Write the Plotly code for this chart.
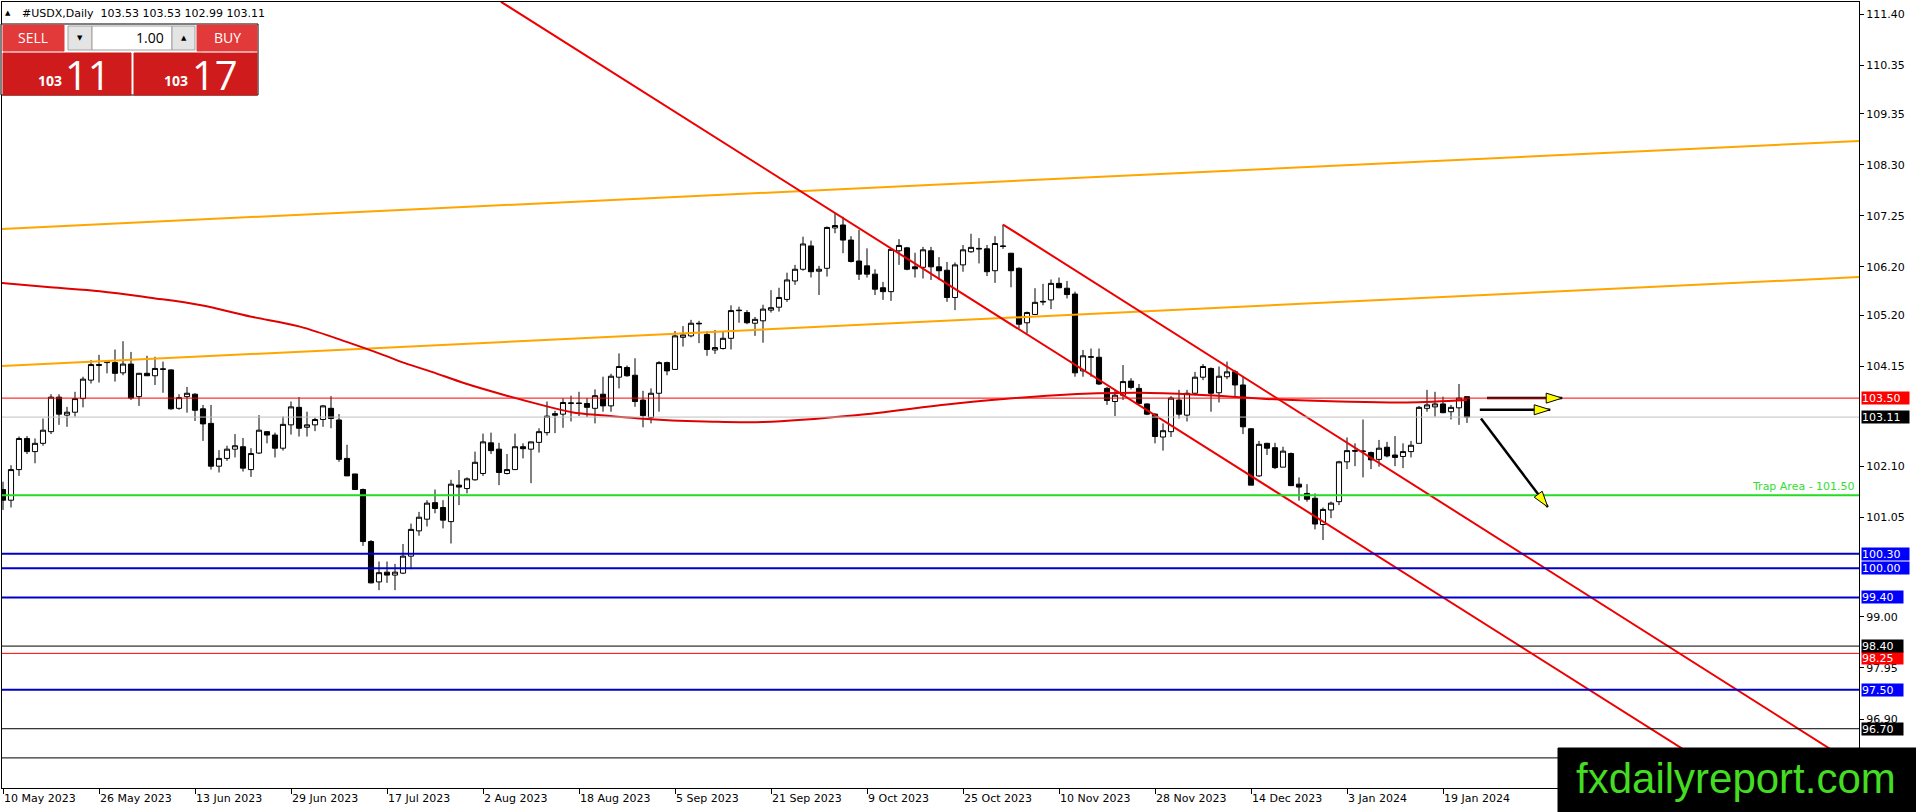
import plotly.graph_objects as go

# daily candles, 10 May 2023 .. 24 Jan 2024 (bar index = position on chart)
opens = [101.62, 101.40, 102.03, 102.67, 102.40, 102.57, 102.81, 103.52, 103.15, 103.21,
         103.49, 103.87, 104.17, 104.23, 104.23, 104.02, 104.20, 103.53, 104.01, 103.96,
         104.09, 104.08, 103.29, 103.53, 103.58, 103.28, 102.98, 102.10, 102.26, 102.45,
         102.50, 102.03, 102.37, 102.81, 102.74, 102.47, 102.95, 103.31, 102.90, 102.95,
         103.06, 103.29, 103.05, 102.26, 101.94, 101.62, 100.55, 99.72, 99.92, 99.86,
         99.90, 100.25, 100.77, 101.01, 101.35, 101.25, 100.96, 101.71, 101.64, 101.82,
         101.95, 102.58, 102.45, 101.95, 102.03, 102.50, 102.45, 102.59, 102.79, 103.18,
         103.17, 103.39, 103.40, 103.39, 103.29, 103.58, 103.34, 103.93, 104.13, 103.97,
         103.46, 103.10, 103.60, 104.23, 104.09, 104.75, 104.78, 105.04, 104.81, 104.49,
         104.52, 104.73, 105.31, 105.26, 105.04, 105.09, 105.31, 105.37, 105.53, 105.91,
         106.15, 106.63, 106.11, 106.17, 107.00, 107.06, 106.75, 106.32, 106.22, 106.05,
         105.77, 105.69, 106.53, 106.59, 106.20, 106.19, 106.53, 106.20, 106.13, 105.57,
         106.24, 106.51, 106.58, 106.57, 106.12, 106.63, 106.48, 106.17, 105.05, 105.22,
         105.49, 105.52, 105.86, 105.76, 105.64, 104.06, 104.34, 104.34, 103.70, 103.43,
         103.56, 103.85, 103.70, 103.38, 103.17, 102.70, 102.81, 103.46, 103.15, 103.60,
         103.93, 104.11, 103.61, 103.94, 104.04, 103.77, 102.87, 101.90, 102.57, 102.48,
         102.08, 102.36, 101.73, 101.54, 101.44, 100.90, 101.20, 101.37, 102.19, 102.42,
         102.40, 102.38, 102.24, 102.49, 102.33, 102.30, 102.40, 102.57, 103.29, 103.32,
         103.38, 103.22, 103.30, 103.53]
highs = [101.78, 102.12, 102.71, 102.72, 102.67, 103.08, 103.58, 103.58, 103.32, 103.63,
         103.94, 104.28, 104.39, 104.28, 104.50, 104.67, 104.45, 104.02, 104.37, 104.35,
         104.25, 104.09, 103.58, 103.73, 103.60, 103.36, 103.36, 102.43, 102.52, 102.76,
         102.68, 102.47, 103.15, 102.82, 102.79, 103.12, 103.43, 103.52, 103.22, 103.10,
         103.36, 103.54, 103.17, 102.54, 101.94, 101.64, 100.58, 100.14, 100.14, 100.09,
         100.50, 100.92, 101.16, 101.40, 101.62, 101.40, 101.82, 102.02, 101.87, 102.40,
         102.77, 102.79, 102.58, 102.35, 102.77, 102.57, 102.60, 102.88, 103.43, 103.24,
         103.50, 103.55, 103.63, 103.50, 103.68, 103.94, 104.00, 104.42, 104.17, 104.32,
         103.65, 103.70, 104.26, 104.25, 104.88, 104.98, 105.11, 105.09, 104.88, 104.90,
         104.87, 105.41, 105.38, 105.31, 105.17, 105.42, 105.72, 105.77, 106.08, 106.24,
         106.82, 106.74, 106.22, 107.03, 107.31, 107.23, 106.83, 106.96, 106.58, 106.15,
         105.89, 106.58, 106.77, 106.61, 106.49, 106.61, 106.61, 106.40, 106.30, 106.29,
         106.65, 106.88, 106.79, 106.65, 106.83, 107.07, 106.48, 106.19, 105.28, 105.76,
         105.85, 105.94, 105.98, 105.91, 105.69, 104.49, 104.52, 104.52, 103.73, 103.67,
         104.18, 103.91, 103.79, 103.39, 103.19, 102.98, 103.54, 103.67, 103.67, 104.04,
         104.20, 104.13, 104.15, 104.25, 104.08, 103.94, 102.88, 102.62, 102.58, 102.58,
         102.50, 102.38, 101.87, 101.73, 101.54, 101.25, 101.37, 102.21, 102.69, 102.57,
         103.06, 102.40, 102.64, 102.60, 102.72, 102.57, 102.62, 103.34, 103.67, 103.63,
         103.53, 103.36, 103.79, 103.53]
lows = [101.20, 101.25, 101.90, 102.35, 102.16, 102.52, 102.76, 102.95, 102.91, 103.12,
        103.31, 103.80, 103.82, 104.01, 103.84, 103.97, 103.46, 103.34, 103.96, 103.77,
        103.61, 103.26, 103.26, 103.20, 103.03, 102.62, 102.03, 101.97, 102.21, 102.28,
        101.99, 101.88, 102.35, 102.57, 102.28, 102.42, 102.75, 102.71, 102.71, 102.82,
        102.91, 102.88, 102.19, 101.90, 101.62, 100.46, 99.69, 99.55, 99.70, 99.55,
        99.88, 99.98, 100.67, 100.86, 101.13, 100.82, 100.51, 101.30, 101.54, 101.80,
        101.90, 102.35, 101.71, 101.93, 102.02, 102.26, 101.75, 102.38, 102.73, 102.78,
        102.89, 103.02, 103.13, 103.11, 102.98, 103.22, 103.22, 103.70, 103.94, 103.32,
        102.90, 102.98, 103.22, 103.97, 104.08, 104.56, 104.75, 104.63, 104.37, 104.41,
        104.50, 104.50, 105.05, 105.02, 104.78, 104.64, 105.26, 105.28, 105.48, 105.83,
        106.12, 105.98, 105.62, 106.00, 106.89, 106.48, 106.29, 105.93, 105.98, 105.62,
        105.52, 105.50, 106.24, 106.13, 105.98, 105.96, 105.93, 105.93, 105.48, 105.31,
        106.10, 106.49, 106.27, 106.01, 105.87, 106.57, 105.78, 104.93, 104.83, 105.21,
        105.41, 105.33, 105.76, 105.55, 103.94, 103.94, 103.94, 103.77, 103.36, 103.13,
        103.46, 103.68, 103.39, 103.15, 102.57, 102.42, 102.70, 103.08, 103.02, 103.58,
        103.87, 103.22, 103.41, 103.89, 103.53, 102.76, 101.71, 101.88, 102.33, 102.04,
        102.08, 101.70, 101.39, 101.37, 100.80, 100.58, 101.03, 101.30, 102.04, 102.10,
        101.87, 102.04, 102.09, 102.28, 102.10, 102.06, 102.28, 102.57, 103.22, 103.12,
        103.19, 103.06, 102.95, 102.99]
closes = [101.40, 102.03, 102.67, 102.40, 102.57, 102.84, 103.52, 103.17, 103.21, 103.49,
          103.89, 104.19, 104.19, 104.26, 104.01, 104.20, 103.50, 104.01, 103.96, 104.11,
          104.10, 103.28, 103.51, 103.60, 103.25, 102.97, 102.10, 102.26, 102.45, 102.52,
          102.06, 102.36, 102.84, 102.74, 102.47, 102.96, 103.32, 102.88, 102.95, 103.06,
          103.34, 103.08, 102.24, 101.90, 101.62, 100.55, 99.70, 99.91, 99.86, 99.92,
          100.25, 100.80, 101.05, 101.34, 101.23, 100.99, 101.73, 101.67, 101.84, 102.18,
          102.60, 102.42, 101.97, 102.03, 102.50, 102.46, 102.60, 102.81, 103.13, 103.15,
          103.41, 103.40, 103.39, 103.31, 103.55, 103.34, 103.95, 104.15, 103.96, 103.43,
          103.14, 103.60, 104.23, 104.06, 104.78, 104.80, 105.04, 105.03, 104.50, 104.54,
          104.73, 105.30, 105.30, 105.05, 105.12, 105.33, 105.36, 105.57, 105.93, 106.15,
          106.67, 106.10, 106.15, 107.01, 107.05, 106.75, 106.31, 106.05, 106.05, 105.74,
          105.69, 106.56, 106.64, 106.15, 106.16, 106.55, 106.20, 106.12, 105.57, 106.24,
          106.55, 106.60, 106.57, 106.10, 106.68, 106.62, 106.12, 105.02, 105.26, 105.47,
          105.48, 105.86, 105.77, 105.63, 104.02, 104.37, 104.35, 103.79, 103.45, 103.56,
          103.84, 103.72, 103.39, 103.17, 102.71, 102.83, 103.50, 103.17, 103.60, 103.93,
          104.15, 103.60, 103.95, 104.04, 103.77, 102.91, 101.71, 102.55, 102.47, 102.07,
          102.41, 101.70, 101.67, 101.42, 100.91, 101.21, 101.34, 102.19, 102.42, 102.41,
          102.41, 102.23, 102.47, 102.31, 102.28, 102.40, 102.53, 103.31, 103.36, 103.38,
          103.20, 103.31, 103.50, 103.11]

# date labels under the chart, one every 12 bars
label_bars = [0, 12, 24, 36, 48, 60, 72, 84, 96, 108, 120, 132, 144, 156, 168, 180]
date_labels = ["10 May 2023", "26 May 2023", "13 Jun 2023", "29 Jun 2023", "17 Jul 2023",
               "2 Aug 2023", "18 Aug 2023", "5 Sep 2023", "21 Sep 2023", "9 Oct 2023",
               "25 Oct 2023", "10 Nov 2023", "28 Nov 2023", "14 Dec 2023", "3 Jan 2024",
               "19 Jan 2024"]
price_ticks = [111.40, 110.35, 109.35, 108.30, 107.25, 106.20, 105.20, 104.15,
               102.10, 101.05, 99.00, 97.95, 96.90]

# moving average (bar, value)
ma_bars = [-0.4, 5.9, 12.1, 18.4, 24.6, 30.9, 37.1, 43.4, 47.5, 50.25, 53.6, 57.8, 62.75,
           67.75, 71.1, 75.25, 79.5, 83.6, 87.75, 95, 106.6, 119.1, 131.6, 142, 150.5,
           159.6, 167.1, 175.5, 183]
ma_vals = [105.87, 105.78, 105.70, 105.565, 105.415, 105.18, 104.97, 104.63, 104.39, 104.22,
           104.04, 103.80, 103.56, 103.34, 103.21, 103.14, 103.08, 103.04, 103.02, 103.01,
           103.15, 103.39, 103.56, 103.61, 103.56, 103.47, 103.43, 103.41, 103.46]

# drawn trend lines: (bars, prices)
orange_up = ([-0.125, 232], [106.98, 108.79])
orange_low = ([-0.125, 232], [104.16, 105.99])
red_long = ([62.25, 217.7], [111.65, 95.48])
red_channel = ([125, 236.1], [107.07, 95.48])

# arrows: start bar, start price, tip bar, tip price
arrows = [(185.5, 103.50, 194.9, 103.50),
          (184.6, 103.26, 193.4, 103.26),
          (184.75, 103.08, 193.1, 101.26)]

# horizontal levels
level_prices = [103.50, 103.11, 101.50, 100.30, 100.00, 99.40, 98.25, 98.40, 97.50, 96.70, 96.10]
level_colors = ["#ff0000", "#c0c0c0", "#22dd22", "#0000cd", "#0000cd", "#0000cd",
                "#ff0000", "black", "#0000cd", "black", "black"]
level_widths = [1, 1, 2, 2, 2, 2, 1, 1, 2, 1, 1]
level_boxes = ["#ff0000", "black", None, "#0000ff", "#0000ff", "#0000ff",
               "#ff0000", "black", "#0000ff", "black", None]

X_RANGE = [-0.125, 232]
Y_RANGE = [95.481, 111.647]
PLOT_W, PLOT_H = 1857, 786
PX_BAR = PLOT_W / (X_RANGE[1] - X_RANGE[0])
PX_UNIT = PLOT_H / (Y_RANGE[1] - Y_RANGE[0])


def px(x):
    return (x - 2) / PLOT_W


def py(y):
    return 1 - (y - 2) / PLOT_H


fig = go.Figure()

fig.add_trace(go.Candlestick(
    x=list(range(len(opens))), open=opens, high=highs, low=lows, close=closes,
    increasing=dict(fillcolor="white", line=dict(color="black", width=1)),
    decreasing=dict(fillcolor="black", line=dict(color="black", width=1)),
    whiskerwidth=0, hoverinfo="skip",
))

for bars, vals in [orange_up, orange_low]:
    fig.add_trace(go.Scatter(x=bars, y=vals, mode="lines",
                             line=dict(color="#ffa500", width=2), hoverinfo="skip"))

fig.add_trace(go.Scatter(x=ma_bars, y=ma_vals, mode="lines",
                         line=dict(color="#e00000", width=2, shape="spline"), hoverinfo="skip"))

for bars, vals in [red_long, red_channel]:
    fig.add_trace(go.Scatter(x=bars, y=vals, mode="lines",
                             line=dict(color="#ee0000", width=2), hoverinfo="skip"))

shapes = []
annotations = []

for p, c, w in zip(level_prices, level_colors, level_widths):
    shapes.append(dict(type="line", xref="paper", yref="y", x0=0, x1=1, y0=p, y1=p,
                       line=dict(color=c, width=w), layer="above"))

for p, box in zip(level_prices, level_boxes):
    if box is None:
        continue
    txt = f"{p:.2f}"
    # the 98.25 tag sits just under the 98.40 one
    shift = -5 if txt == "98.25" else 0
    annotations.append(dict(xref="paper", yref="y", x=1, y=p, xanchor="left", yanchor="middle",
                            xshift=2, yshift=shift, text=txt, showarrow=False, bgcolor=box,
                            width=47 if len(txt) == 6 else 41, height=12, align="left",
                            borderpad=0, font=dict(color="white", size=11)))

annotations.append(dict(xref="paper", yref="y", x=1, y=101.50, xanchor="right", yanchor="bottom",
                        xshift=-2, yshift=0, text="Trap Area - 101.50", showarrow=False,
                        font=dict(color="#33dd33", size=11)))


def head_path(dx, dy, length=16, half=5):
    n = (dx * dx + dy * dy) ** 0.5
    ux, uy = dx / n, dy / n
    bx, by = -length * ux, -length * uy
    nx, ny = -uy, ux
    return (f"M0,0 L{bx + half * nx:.1f},{by + half * ny:.1f} "
            f"L{bx - half * nx:.1f},{by - half * ny:.1f} Z")


for x0, y0, x1, y1 in arrows:
    fig.add_trace(go.Scatter(x=[x0, x1], y=[y0, y1], mode="lines",
                             line=dict(color="black", width=2.5), hoverinfo="skip"))
    shapes.append(dict(type="path", xref="x", yref="y", xsizemode="pixel", ysizemode="pixel",
                       xanchor=x1, yanchor=y1,
                       path=head_path((x1 - x0) * PX_BAR, (y1 - y0) * PX_UNIT),
                       fillcolor="#ffff00", line=dict(color="black", width=1), layer="above"))

# one-click trading panel (top left)
def rect(x0, y0, x1, y1, fill, line=None):
    shapes.append(dict(type="rect", xref="paper", yref="paper",
                       x0=px(x0), x1=px(x1), y0=py(y1), y1=py(y0),
                       fillcolor=fill, line=dict(color=line or fill, width=1), layer="above"))


def label(x, y, text, size, color="white", anchor="center", weight="normal", family=None):
    font = dict(size=size, color=color, weight=weight)
    if family:
        font["family"] = family
    annotations.append(dict(xref="paper", yref="paper", x=px(x), y=py(y), xanchor=anchor,
                            yanchor="middle", text=text, showarrow=False, font=font))


rect(1, 24, 258, 95, "white", "black")
rect(3, 25, 64, 51, "#e23a3a")
rect(197, 25, 257, 51, "#e23a3a")
rect(68, 26, 92, 50, "#e4e4e4", "#a0a0a0")
rect(92, 26, 172, 50, "white", "#a0a0a0")
rect(172, 26, 195, 50, "#e4e4e4", "#a0a0a0")
rect(3, 53, 131, 95, "#cf1b1b")
rect(134, 53, 257, 95, "#cf1b1b")
shapes.append(dict(type="line", xref="paper", yref="paper", x0=px(10), x1=px(62),
                   y0=py(52), y1=py(52), line=dict(color="#f3b0b0", width=1), layer="above"))
shapes.append(dict(type="line", xref="paper", yref="paper", x0=px(202), x1=px(254),
                   y0=py(52), y1=py(52), line=dict(color="#f3b0b0", width=1), layer="above"))

label(33, 38, "SELL", 14, family="Open Sans")
label(227, 38, "BUY", 14, family="Open Sans")
label(166, 38, "1.00", 14, color="black", anchor="right", family="Open Sans")
label(80, 38, "▼", 7, color="black")
label(184, 38, "▲", 7, color="black")
label(50, 80, "103", 14, weight="bold", family="Open Sans")
label(88, 74, "11", 40, family="Open Sans")
label(176, 80, "103", 14, weight="bold", family="Open Sans")
label(215, 74, "17", 40, family="Open Sans")

label(8, 13, "▲", 7, color="black")
label(20, 13, "#USDX,Daily  103.53 103.53 102.99 103.11", 11, color="black", anchor="left")

# watermark box (bottom right)
rect(1558, 748, 1920, 815, "black")
label(1736, 778, "fxdailyreport.com", 42, color="#44dd22", family="Liberation Sans")

fig.update_layout(
    width=1916, height=812,
    margin=dict(l=2, r=57, t=2, b=24, pad=0),
    paper_bgcolor="white", plot_bgcolor="white",
    showlegend=False,
    boxgap=0.2, boxgroupgap=0.2,
    font=dict(family="DejaVu Sans", size=11, color="black"),
    shapes=shapes, annotations=annotations,
    xaxis=dict(range=X_RANGE, showgrid=False, zeroline=False, showline=True,
               linecolor="black", linewidth=1, mirror=True, ticks="outside", ticklen=5,
               tickcolor="black", tickvals=label_bars, ticktext=date_labels,
               ticklabelposition="outside right", rangeslider=dict(visible=False),
               automargin=False),
    yaxis=dict(range=Y_RANGE, side="right", showgrid=False, zeroline=False, showline=True,
               linecolor="black", linewidth=1, mirror=True, ticks="outside", ticklen=4,
               tickcolor="black", tickvals=price_ticks,
               ticktext=[f"{v:.2f}" for v in price_ticks], automargin=False),
)

fig.write_html("out.html", config={"displayModeBar": False},
               post_script="document.body.style.margin='0';document.body.style.overflow='hidden';")
